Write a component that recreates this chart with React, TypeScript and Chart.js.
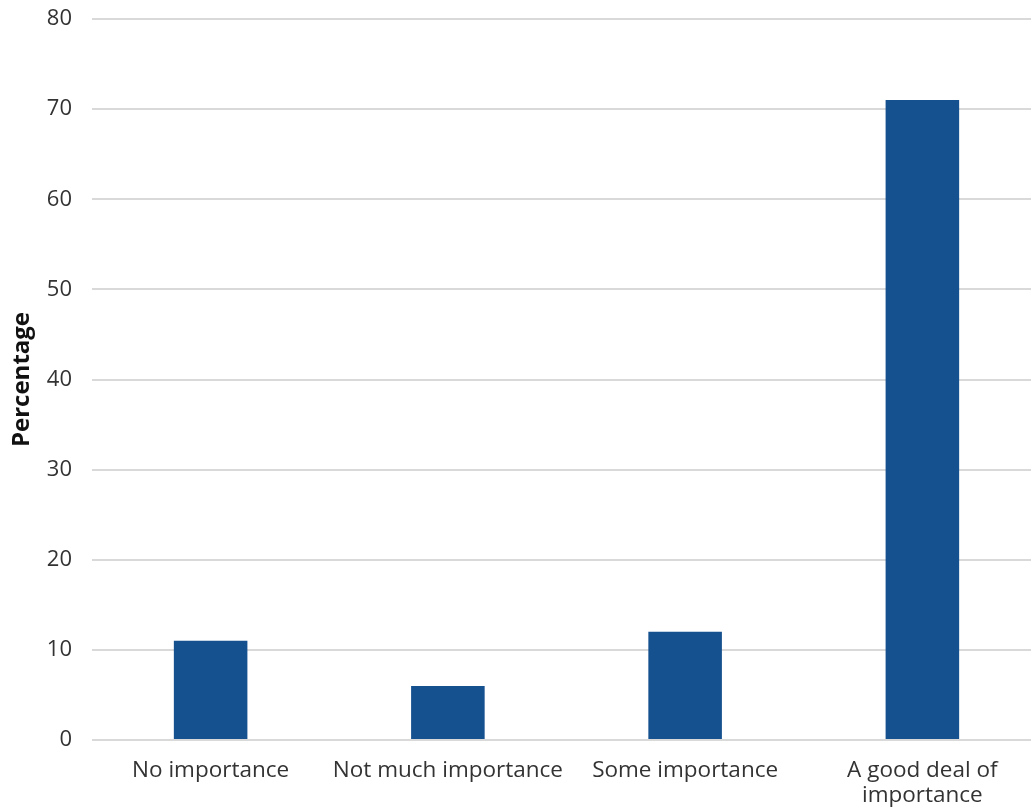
import React, { useEffect, useRef } from "react";
import { Chart, registerables } from "chart.js";

Chart.register(...registerables);

const categories: (string | string[])[] = [
  "No importance",
  "Not much importance",
  "Some importance",
  ["A good deal of", "importance"],
];
const percentages = [11, 6, 12, 71];
const yTicks = [0, 10, 20, 30, 40, 50, 60, 70, 80];

const FONT = "'Open Sans', sans-serif";
const TEXT = "#333333";

export default function App() {
  const ref = useRef<HTMLCanvasElement | null>(null);

  useEffect(() => {
    document.body.style.margin = "0";
    document.body.style.overflow = "hidden";
    const canvas = ref.current;
    if (!canvas) return;
    const chart = new Chart(canvas, {
      type: "bar",
      data: {
        labels: categories,
        datasets: [
          {
            label: "Percentage",
            data: percentages,
            backgroundColor: "#15508f",
            barPercentage: 0.31,
            categoryPercentage: 1,
          },
        ],
      },
      options: {
        animation: false,
        responsive: false,
        maintainAspectRatio: false,
        layout: { padding: { top: 19, left: 0, right: 0, bottom: 0 } },
        plugins: {
          legend: { display: false },
          tooltip: { enabled: false },
        },
        scales: {
          x: {
            grid: { display: false, drawTicks: false },
            border: { display: false },
            ticks: {
              color: TEXT,
              font: { family: FONT, size: 22.5, lineHeight: 1.12 },
              padding: 18,
              maxRotation: 0,
              autoSkip: false,
            },
            afterFit: (s: any) => {
              s.height = 69;
            },
          },
          y: {
            min: 0,
            max: 80,
            afterBuildTicks: (s: any) => {
              s.ticks = yTicks.map((v) => ({ value: v }));
            },
            grid: { color: "#d9d9d9", lineWidth: 2, drawTicks: false },
            border: { display: false },
            ticks: {
              color: TEXT,
              font: { family: FONT, size: 22 },
              padding: 20,
            },
            title: {
              display: true,
              text: "Percentage",
              color: "#111111",
              font: { family: FONT, size: 24, weight: "bold" },
              padding: { top: 8, bottom: 0 },
            },
            afterFit: (s: any) => {
              s.width = 92;
              s.paddingTop = 0;
              s.paddingBottom = 0;
            },
          },
        },
      },
    });
    return () => chart.destroy();
  }, []);

  return (
    <div style={{ position: "absolute", left: 0, top: 0, width: 1041, height: 809 }}>
      <canvas ref={ref} width={1041} height={809} />
    </div>
  );
}
